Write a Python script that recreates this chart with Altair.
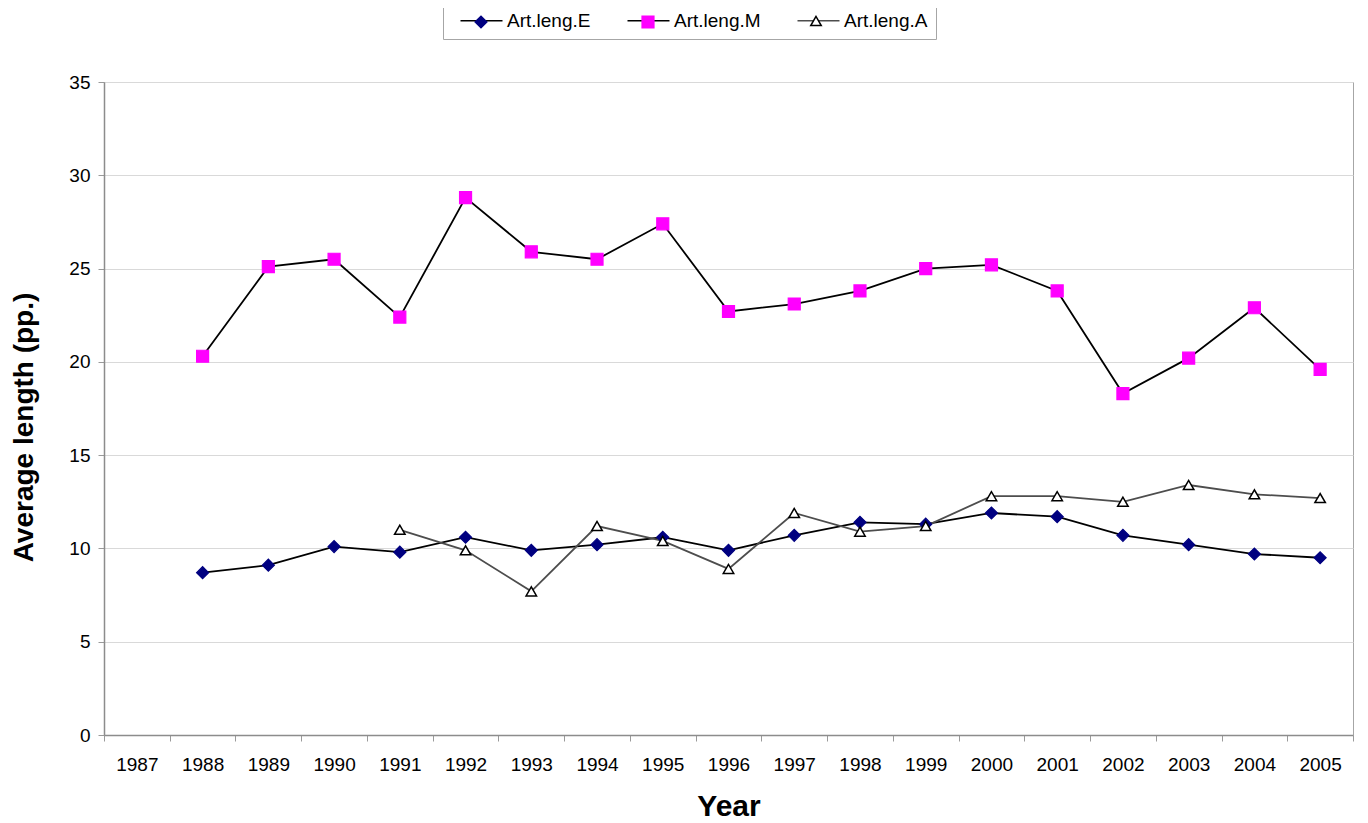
import altair as alt
import pandas as pd

FONT = "Liberation Sans"

years = [str(y) for y in range(1987, 2006)]
series_names = ["Art.leng.E", "Art.leng.M", "Art.leng.A"]
e_vals = [None, 8.7, 9.1, 10.1, 9.8, 10.6, 9.9, 10.2, 10.6, 9.9, 10.7, 11.4, 11.3, 11.9, 11.7, 10.7, 10.2, 9.7, 9.5]
m_vals = [None, 20.3, 25.1, 25.5, 22.4, 28.8, 25.9, 25.5, 27.4, 22.7, 23.1, 23.8, 25.0, 25.2, 23.8, 18.3, 20.2, 22.9, 19.6]
a_vals = [None, None, None, None, 11.0, 9.9, 7.7, 11.2, 10.4, 8.9, 11.9, 10.9, 11.2, 12.8, 12.8, 12.5, 13.4, 12.9, 12.7]
y_ticks = [0, 5, 10, 15, 20, 25, 30, 35]

line_colors = ["#000000", "#000000", "#4d4d4d"]
marker_shapes = ["diamond", "square", "triangle-up"]
marker_fill = ["#000080", "#ff00ff", "#ffffff"]
marker_stroke = ["#000080", "#ff00ff", "#000000"]
marker_size = [144, 144, 110]
marker_stroke_width = [1.2, 1.2, 1.5]
legend_marker_x = [370, 537, 706]

rows = []
for name, vals in zip(series_names, [e_vals, m_vals, a_vals]):
    for yr, v in zip(years, vals):
        if v is not None:
            rows.append({"Year": yr, "series": name, "value": v})
df = pd.DataFrame(rows)

x_enc = alt.X(
    "Year:N",
    scale=alt.Scale(domain=years, type="band", paddingInner=0, paddingOuter=0),
    bandPosition=0.5,
    axis=alt.Axis(
        title="Year", labelAngle=0, tickBand="extent", grid=False,
        domainColor="#8c8c8c", domainWidth=1.5, tickColor="#9a9a9a", tickSize=6,
        labelFont=FONT, labelFontSize=19, labelColor="#000000",
        labelPadding=29, labelBaseline="alphabetic",
        titleFont=FONT, titleFontSize=30, titleFontWeight="bold", titleColor="#000000",
        titleY=80, titleBaseline="alphabetic",
    ),
)
y_enc = alt.Y(
    "value:Q",
    scale=alt.Scale(domain=[0, 35], nice=False, zero=True),
    axis=alt.Axis(
        title="Average length (pp.)", values=y_ticks, grid=True,
        gridColor="#d9d9d9", gridWidth=1,
        domainColor="#8c8c8c", domainWidth=1.5, tickColor="#9a9a9a", tickSize=6,
        labelFont=FONT, labelFontSize=19, labelColor="#000000", labelPadding=8,
        titleFont=FONT, titleFontSize=28, titleFontWeight="bold", titleColor="#000000",
        titleAngle=270, titleX=-72, titleY=345, titleAlign="center",
        titleBaseline="alphabetic",
    ),
)

legend_lines = alt.Legend(
    title=None, orient="none", legendX=339, legendY=-79, direction="horizontal",
    padding=8, strokeColor="#a6a6a6", fillColor="#ffffff",
    symbolType="M0,0L8.4,0", symbolSize=100, symbolStrokeWidth=1.6,
    labelFont=FONT, labelFontSize=19, labelColor="#000000", labelOffset=37,
    columnPadding=27,
)

lines = alt.Chart(df).mark_line(strokeWidth=1.8).encode(
    x=x_enc,
    y=y_enc,
    color=alt.Color("series:N", scale=alt.Scale(domain=series_names, range=line_colors), legend=legend_lines),
)

layers = [lines]
for i, name in enumerate(series_names):
    d = df[df["series"] == name].reset_index(drop=True)
    pts = alt.Chart(d).mark_point(
        shape=marker_shapes[i], filled=True, fill=marker_fill[i], stroke=marker_stroke[i],
        strokeWidth=marker_stroke_width[i], opacity=1,
    ).encode(
        x=x_enc,
        y=y_enc,
        size=alt.Size(
            "series:N",
            scale=alt.Scale(range=[marker_size[i], marker_size[i]]),
            legend=alt.Legend(
                title=None, orient="none", legendX=legend_marker_x[i], legendY=-67,
                padding=0, labelExpr="''", labelOffset=0,
                symbolStrokeWidth=marker_stroke_width[i],
            ),
        ),
    )
    layers.append(pts)

chart = alt.layer(*layers).resolve_scale(size="independent").resolve_legend(size="independent").properties(
    width=1249, height=653,
    autosize=alt.AutoSizeParams(type="none"),
    padding={"left": 96, "top": 74, "right": 7, "bottom": 85},
    background="#ffffff",
).configure_view(stroke="#a6a6a6", strokeWidth=1)

chart.save("out.html", embed_options={"renderer": "svg", "actions": False})
